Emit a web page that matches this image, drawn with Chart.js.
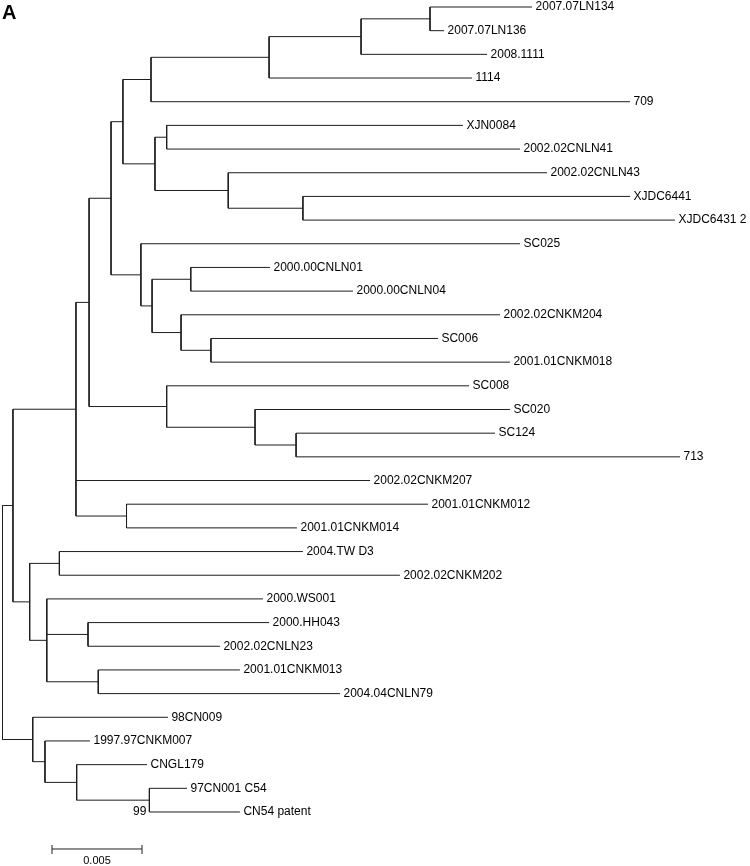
<!DOCTYPE html>
<html>
<head>
<meta charset="utf-8">
<script src="https://cdn.jsdelivr.net/npm/chart.js@4/dist/chart.umd.min.js"></script>
<style>
  body { margin: 0; background: #fff; }
  #wrap { width: 750px; height: 866px; position: relative; }
</style>
</head>
<body>
<div id="wrap"><canvas id="tree"></canvas></div>
<script>
// leaves, top to bottom, with distance from root (substitutions/site)
const leafNames = ['2007.07LN134', '2007.07LN136', '2008.1111', '1114', '709',
    'XJN0084', '2002.02CNLN41', '2002.02CNLN43', 'XJDC6441', 'XJDC6431 2',
    'SC025', '2000.00CNLN01', '2000.00CNLN04', '2002.02CNKM204', 'SC006',
    '2001.01CNKM018', 'SC008', 'SC020', 'SC124', '713',
    '2002.02CNKM207', '2001.01CNKM012', '2001.01CNKM014', '2004.TW D3', '2002.02CNKM202',
    '2000.WS001', '2000.HH043', '2002.02CNLN23', '2001.01CNKM013', '2004.04CNLN79',
    '98CN009', '1997.97CNKM007', 'CNGL179', '97CN001 C54', 'CN54 patent']
const leafDepth = [0.02942, 0.02453, 0.02692, 0.02608, 0.03486,
    0.02558, 0.02875, 0.03025, 0.03486, 0.03736,
    0.02875, 0.01486, 0.01947, 0.02764, 0.02419,
    0.02819, 0.02592, 0.02819, 0.02736, 0.03764,
    0.02042, 0.02364, 0.01636, 0.01669, 0.02208,
    0.01447, 0.01481, 0.01208, 0.01319, 0.01875,
    0.00919, 0.00486, 0.00803, 0.01025, 0.01319]

// internal nodes: name, depth, children (leaf names or node names)
const nodeNames = ['root', 'n1', 'n2', 'n3', 'n4', 'n5', 'n6', 'n7', 'n8', 'n9',
    'n10', 'n11', 'n12', 'n13', 'n14', 'n15', 'n16', 'n17', 'n18', 'n19',
    'n20', 'n21', 'n22', 'n23', 'n24', 'n25', 'n26', 'n27', 'n28', 'n29',
    'n30', 'n31', 'n32']
const nodeDepth = [0, 0.00058, 0.00408, 0.00481, 0.00603, 0.00669, 0.00825, 0.01481, 0.01992, 0.02375,
    0.00847, 0.00912, 0.01254, 0.01669, 0.00769, 0.00831, 0.01046, 0.00992, 0.01158, 0.00912,
    0.01403, 0.01631, 0.00689, 0.00151, 0.00316, 0.00246, 0.00475, 0.00532, 0.00168, 0.00236,
    0.00412, 0.00816, 0]
const nodeChildren = [
    ['n1', 'n28'],
    ['n2', 'n23'],
    ['n3', '2002.02CNKM207', 'n22'],
    ['n4', 'n19'],
    ['n5', 'n14'],
    ['n6', 'n10'],
    ['n7', '709'],
    ['n8', '1114'],
    ['n9', '2008.1111'],
    ['2007.07LN134', '2007.07LN136'],
    ['n11', 'n12'],
    ['XJN0084', '2002.02CNLN41'],
    ['2002.02CNLN43', 'n13'],
    ['XJDC6441', 'XJDC6431 2'],
    ['SC025', 'n15'],
    ['n16', 'n17'],
    ['2000.00CNLN01', '2000.00CNLN04'],
    ['2002.02CNKM204', 'n18'],
    ['SC006', '2001.01CNKM018'],
    ['SC008', 'n20'],
    ['SC020', 'n21'],
    ['SC124', '713'],
    ['2001.01CNKM012', '2001.01CNKM014'],
    ['n24', 'n25'],
    ['2004.TW D3', '2002.02CNKM202'],
    ['2000.WS001', 'n26', 'n27'],
    ['2000.HH043', '2002.02CNLN23'],
    ['2001.01CNKM013', '2004.04CNLN79'],
    ['98CN009', 'n29'],
    ['1997.97CNKM007', 'n30'],
    ['CNGL179', 'n31'],
    ['97CN001 C54', 'CN54 patent'],
    []
]
nodeNames.pop(); nodeDepth.pop(); nodeChildren.pop()

const bootNodes = ['n31']
const bootValues = [99]
const scaleBarLength = 0.005

// work out x/y of every leaf and node
let pos = {}
leafNames.forEach((n, i) => { pos[n] = { x: leafDepth[i], y: i } })

function place(name) {
    if (pos[name]) return pos[name]
    const k = nodeNames.indexOf(name)
    const ys = nodeChildren[k].map(c => place(c).y)
    pos[name] = { x: nodeDepth[k], y: (Math.min(...ys) + Math.max(...ys)) / 2 }
    return pos[name]
}
place('root')

// branch segments, broken with null points
let segs = []
nodeNames.forEach((n, k) => {
    const p = pos[n]
    const ys = nodeChildren[k].map(c => pos[c].y)
    segs.push({ x: p.x, y: Math.min(...ys) }, { x: p.x, y: Math.max(...ys) }, { x: p.x, y: null })
    nodeChildren[k].forEach(c => {
        segs.push({ x: p.x, y: pos[c].y }, { x: pos[c].x, y: pos[c].y }, { x: pos[c].x, y: null })
    })
})

const FONT = '"Liberation Sans", Arial, sans-serif'

const treeText = {
    id: 'treeText',
    afterDatasetsDraw(chart) {
        const ctx = chart.ctx
        const xs = chart.scales.x, ys = chart.scales.y
        ctx.save()
        ctx.fillStyle = '#000'
        ctx.textBaseline = 'middle'

        // leaf labels
        ctx.font = '12px ' + FONT
        ctx.textAlign = 'left'
        leafNames.forEach((n, i) => {
            ctx.fillText(n, xs.getPixelForValue(leafDepth[i]) + 3.5, ys.getPixelForValue(i))
        })

        // bootstrap values, under the node
        ctx.textAlign = 'right'
        bootNodes.forEach((n, i) => {
            const k = nodeNames.indexOf(n)
            const low = Math.max(...nodeChildren[k].map(c => pos[c].y))
            ctx.fillText(String(bootValues[i]), xs.getPixelForValue(nodeDepth[k]) - 3, ys.getPixelForValue(low))
        })

        // scale bar
        const x0 = xs.getPixelForValue(0.00275)
        const x1 = xs.getPixelForValue(0.00275 + scaleBarLength)
        const yb = ys.getPixelForValue(leafNames.length - 1) + 37
        ctx.strokeStyle = '#222'
        ctx.lineWidth = 1
        ctx.beginPath()
        ctx.moveTo(x0, yb); ctx.lineTo(x1, yb)
        ctx.moveTo(x0, yb - 4); ctx.lineTo(x0, yb + 5)
        ctx.moveTo(x1, yb - 4); ctx.lineTo(x1, yb + 5)
        ctx.stroke()
        ctx.font = '11px ' + FONT
        ctx.textAlign = 'center'
        ctx.textBaseline = 'top'
        ctx.fillText(String(scaleBarLength), (x0 + x1) / 2, yb + 6)

        // panel letter
        ctx.font = 'bold 20px ' + FONT
        ctx.textAlign = 'left'
        ctx.textBaseline = 'top'
        ctx.fillText('A', 2, 3)
        ctx.restore()
    }
}

const ctx = document.getElementById('tree')
const myChart = new Chart(ctx, {
    type: 'line',
    data: {
        datasets: [{
            data: segs,
            borderColor: '#1e1e1e',
            borderWidth: 1,
            pointRadius: 0,
            spanGaps: false,
            tension: 0
        }]
    },
    options: {
        responsive: true,
        maintainAspectRatio: false,
        animation: false,
        layout: { padding: 0 },
        plugins: { legend: { display: false }, tooltip: { enabled: false } },
        scales: {
            x: { type: 'linear', display: false, min: -0.000139, max: 0.041528 },
            y: { type: 'linear', display: false, reverse: true, min: -0.2957, max: 36.281 }
        }
    },
    plugins: [treeText]
})
</script>
</body>
</html>
